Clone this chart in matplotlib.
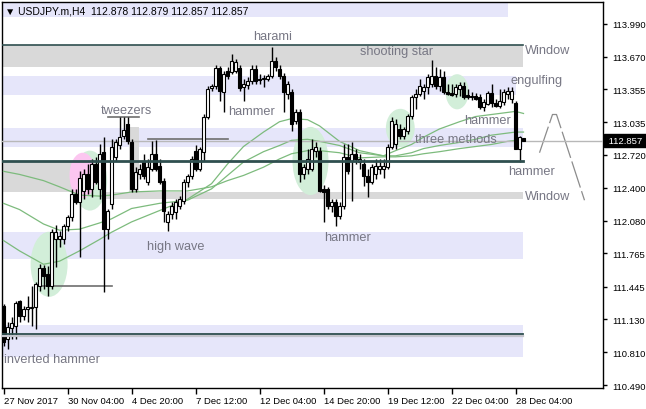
import matplotlib
matplotlib.use("Agg")
import matplotlib.pyplot as plt
from matplotlib.patches import Rectangle, Ellipse
import matplotlib.transforms as mtransforms

plt.rcParams['font.family'] = ['Liberation Sans', 'DejaVu Sans']

# ---------------- data (USDJPY.m, H4) ----------------
opens = [111.26, 110.94, 111.04, 111.06, 111.30, 111.16, 111.23, 111.24, 111.25, 111.45,
         111.62, 111.57, 111.45, 111.90, 111.90, 111.90, 112.03, 112.12, 112.34, 112.26,
         112.37, 112.53, 112.39, 112.63, 112.39, 112.75, 112.00, 112.24, 112.70, 112.81,
         112.90, 113.02, 112.84, 112.39, 112.53, 112.65, 112.46, 112.58, 112.73, 112.61,
         112.47, 112.07, 112.15, 112.17, 112.22, 112.27, 112.46, 112.51, 112.76, 112.58,
         112.75, 113.09, 113.37, 113.39, 113.56, 113.33, 113.53, 113.52, 113.53, 113.56,
         113.38, 113.40, 113.43, 113.55, 113.45, 113.45, 113.45, 113.48, 113.63, 113.55,
         113.48, 113.31, 113.33, 113.05, 113.13, 112.53, 112.58, 112.58, 112.76, 112.76,
         112.39, 112.39, 112.22, 112.26, 112.13, 112.22, 112.70, 112.66, 112.73, 112.65,
         112.63, 112.51, 112.46, 112.53, 112.58, 112.58, 112.60, 112.80, 112.82, 112.97,
         112.90, 112.95, 113.10, 113.28, 113.31, 113.34, 113.38, 113.41, 113.48, 113.39,
         113.47, 113.33, 113.32, 113.31, 113.36, 113.39, 113.30, 113.29, 113.29, 113.28,
         113.18, 113.21, 113.32, 113.22, 113.19, 113.23, 113.31, 113.26, 113.22, 112.78,
         112.878]
highs = [111.28, 111.10, 111.15, 111.30, 111.31, 111.26, 111.35, 111.45, 111.49, 111.66,
         111.65, 111.64, 112.00, 112.04, 111.98, 112.05, 112.14, 112.39, 112.39, 112.56,
         112.58, 112.63, 112.68, 112.70, 112.82, 112.89, 112.20, 112.87, 112.87, 113.09,
         113.09, 113.09, 112.87, 112.60, 112.63, 112.73, 112.68, 112.85, 112.86, 112.68,
         112.50, 112.18, 112.26, 112.29, 112.32, 112.49, 112.53, 112.71, 112.81, 112.80,
         113.11, 113.39, 113.41, 113.59, 113.58, 113.53, 113.57, 113.70, 113.65, 113.59,
         113.45, 113.47, 113.59, 113.59, 113.50, 113.49, 113.50, 113.76, 113.67, 113.59,
         113.51, 113.43, 113.36, 113.16, 113.16, 112.63, 112.78, 112.87, 112.84, 112.80,
         112.43, 112.41, 112.29, 112.29, 112.26, 112.82, 112.82, 112.84, 112.78, 112.73,
         112.68, 112.58, 112.63, 112.68, 112.68, 112.68, 112.82, 113.09, 113.07, 113.02,
         112.99, 113.11, 113.30, 113.36, 113.45, 113.41, 113.50, 113.64, 113.57, 113.55,
         113.53, 113.41, 113.41, 113.41, 113.42, 113.42, 113.36, 113.33, 113.32, 113.31,
         113.26, 113.34, 113.41, 113.26, 113.36, 113.36, 113.38, 113.38, 113.24, 112.90,
         112.879]
lows = [110.87, 110.84, 110.94, 110.94, 111.10, 111.12, 111.10, 111.06, 111.03, 111.40,
        111.42, 111.35, 111.42, 111.63, 111.83, 111.86, 111.98, 112.08, 112.24, 111.73,
        112.29, 112.34, 112.31, 112.44, 112.29, 111.39, 111.90, 112.20, 112.66, 112.78,
        112.87, 112.82, 112.36, 112.36, 112.49, 112.49, 112.43, 112.56, 112.56, 112.44,
        112.07, 111.98, 112.10, 112.10, 112.20, 112.24, 112.41, 112.49, 112.56, 112.56,
        112.66, 113.07, 113.34, 113.36, 113.24, 113.13, 113.45, 113.50, 113.51, 113.34,
        113.24, 113.36, 113.41, 113.41, 113.41, 113.38, 113.43, 113.46, 113.53, 113.45,
        113.13, 113.26, 112.95, 113.02, 112.46, 112.49, 112.53, 112.56, 112.70, 112.36,
        112.07, 112.20, 112.17, 112.03, 112.10, 112.20, 112.53, 112.27, 112.63, 112.58,
        112.42, 112.31, 112.44, 112.49, 112.53, 112.50, 112.58, 112.78, 112.78, 112.87,
        112.87, 112.92, 113.07, 113.16, 113.29, 113.26, 113.31, 113.38, 113.36, 113.34,
        113.31, 113.30, 113.29, 113.28, 113.29, 113.26, 113.26, 113.25, 113.25, 113.16,
        113.14, 113.20, 113.18, 113.18, 113.17, 113.20, 113.26, 113.22, 112.78, 112.65,
        112.857]
closes = [110.91, 111.05, 111.09, 111.29, 111.16, 111.23, 111.25, 111.25, 111.47, 111.62,
          111.55, 111.45, 111.97, 111.97, 111.93, 112.03, 112.12, 112.34, 112.26, 112.50,
          112.53, 112.39, 112.63, 112.46, 112.73, 112.00, 112.18, 112.80, 112.84, 112.89,
          112.96, 112.85, 112.39, 112.55, 112.58, 112.51, 112.60, 112.73, 112.58, 112.46,
          112.18, 112.15, 112.22, 112.26, 112.29, 112.46, 112.51, 112.68, 112.58, 112.78,
          113.09, 113.36, 113.39, 113.56, 113.34, 113.50, 113.48, 113.63, 113.62, 113.37,
          113.41, 113.43, 113.55, 113.43, 113.44, 113.46, 113.48, 113.63, 113.57, 113.48,
          113.33, 113.41, 113.02, 113.13, 112.53, 112.60, 112.68, 112.78, 112.80, 112.37,
          112.36, 112.22, 112.26, 112.13, 112.22, 112.70, 112.56, 112.73, 112.68, 112.68,
          112.51, 112.46, 112.60, 112.61, 112.61, 112.61, 112.80, 113.05, 113.02, 112.90,
          112.97, 113.10, 113.28, 113.31, 113.39, 113.38, 113.47, 113.48, 113.39, 113.47,
          113.33, 113.31, 113.30, 113.38, 113.40, 113.28, 113.28, 113.28, 113.26, 113.18,
          113.23, 113.32, 113.22, 113.19, 113.24, 113.33, 113.34, 113.34, 112.78, 112.89,
          112.857]

ma_idx = [0, 4, 10, 14, 19, 24, 27, 32, 39, 46, 52, 56, 60, 65, 69, 72, 76, 79, 84, 89,
          95, 98, 102, 105, 109, 114, 118, 122, 126, 128, 130]
ma_fast = [111.89, 111.79, 111.66, 111.69, 111.79, 111.90, 111.97, 112.07, 112.18, 112.29,
           112.44, 112.63, 112.80, 112.94, 113.04, 113.07, 113.06, 113.00, 112.85, 112.76,
           112.71, 112.76, 112.82, 112.89, 112.97, 113.04, 113.09, 113.11, 113.13, 113.14, 113.12]
ma_mid = [112.25, 112.19, 112.05, 111.99, 112.00, 112.06, 112.10, 112.20, 112.25, 112.28,
          112.39, 112.52, 112.65, 112.75, 112.81, 112.86, 112.87, 112.85, 112.81, 112.74,
          112.71, 112.71, 112.74, 112.78, 112.81, 112.84, 112.87, 112.91, 112.93, 112.94, 112.94]
ma_slow = [112.56, 112.53, 112.47, 112.41, 112.33, 112.32, 112.33, 112.36, 112.37, 112.37,
           112.41, 112.47, 112.52, 112.60, 112.68, 112.73, 112.76, 112.76, 112.74, 112.69,
           112.70, 112.70, 112.71, 112.73, 112.75, 112.78, 112.80, 112.82, 112.85, 112.86, 112.87]

x_tick_idx = [0, 16, 32, 48, 64, 80, 96, 112, 128]
x_tick_labels = ['27 Nov 2017', '30 Nov 04:00', '4 Dec 20:00', '7 Dec 12:00',
                 '12 Dec 04:00', '14 Dec 20:00', '19 Dec 12:00', '22 Dec 04:00', '28 Dec 04:00']
y_ticks = [113.990, 113.670, 113.355, 113.035, 112.720, 112.400,
           112.080, 111.765, 111.445, 111.130, 110.810, 110.490]
last_price = 112.857
header = '\u25BC USDJPY.m,H4  112.878 112.879 112.857 112.857'

# forecast zig-zag (index, price)
zig_idx = [134, 137.25, 138.25, 145.25]
zig_price = [112.74, 113.11, 113.11, 112.28]

# ---------------- figure ----------------
W, H = 646, 410
fig = plt.figure(figsize=(W / 100, H / 100), dpi=100)
ax = fig.add_axes([2 / W, 21 / H, 601 / W, 386 / H])
ax.set_xlim(-0.375, 149.875)
ax.set_ylim(110.4625, 114.199)

LAV = '#e6e6fa'
GRAY = '#d9d9d9'
DARK = '#2f4f4f'
TXT = '#777784'
GREEN_E = '#d2eed9'

def band(x0, x1, lo, hi, color, z=0):
    ax.add_patch(Rectangle((x0, lo), x1 - x0, hi - lo, facecolor=color,
                           edgecolor='none', zorder=z))

R = 129.75
band(-1, 126.0, 114.05, 114.30, LAV)
band(-1, R, 113.57, 113.78, GRAY)
band(-1, 128.0, 113.30, 113.48, LAV)
band(-1, R, 112.80, 112.98, LAV)
band(-1, 25.5, 112.36, 112.65, GRAY)
band(31.25, 33.75, 112.36, 112.99, GRAY)
band(25.5, R, 112.29, 112.36, GRAY)
band(-1, R, 111.71, 111.97, LAV)
band(-1, R, 110.76, 111.07, LAV)

# ellipses
ax.add_patch(Ellipse((11.4, 111.66), 9.25, 0.63, facecolor=GREEN_E, edgecolor='none', zorder=1))
ax.add_patch(Ellipse((21.6, 112.47), 8.6, 0.58, facecolor=GREEN_E, edgecolor='none', zorder=1))
ax.add_patch(Ellipse((19.8, 112.52), 6.6, 0.44, facecolor='#fcc6f0', edgecolor='none', zorder=1.1))
ax.add_patch(Ellipse((76.75, 112.66), 9.0, 0.66, facecolor=GREEN_E, edgecolor='none', zorder=1))
ax.add_patch(Ellipse((99.2, 112.98), 7.2, 0.37, facecolor=GREEN_E, edgecolor='none', zorder=1))
ax.add_patch(Ellipse((113.4, 113.33), 5.8, 0.34, facecolor=GREEN_E, edgecolor='none', zorder=1))

# horizontal lines
ax.plot([-1, R], [113.78, 113.78], color=DARK, lw=1.2, zorder=6)
ax.plot([-1, R], [112.66, 112.66], color=DARK, lw=2.0, zorder=6)
ax.plot([-1, R], [110.985, 110.985], color=DARK, lw=1.3, zorder=6)
ax.plot([-1, R], [110.962, 110.962], color='#c4c4cc', lw=1.6, zorder=5.9)
ax.plot([-1, 151], [last_price, last_price], color='#b8b8b8', lw=1.0, zorder=4)
ax.plot([26.0, 33.75], [113.09, 113.09], color='#6e6e6e', lw=1.2, zorder=4)
ax.plot([36.0, 56.0], [112.87, 112.87], color='#6e6e6e', lw=1.2, zorder=4)
ax.plot([8.5, 27.0], [111.45, 111.45], color='#6e6e6e', lw=1.2, zorder=4)

# moving averages
for ma in (ma_fast, ma_mid, ma_slow):
    ax.plot(ma_idx, ma, color='#7dbb7d', lw=0.9, zorder=3)

# forecast zig-zag
ax.plot(zig_idx, zig_price, color='#8c8c8c', lw=0.9, ls=(0, (22, 3)), zorder=3, clip_on=False)

# candles
for i, (o, h, l, c) in enumerate(zip(opens, highs, lows, closes)):
    ax.plot([i, i], [l, h], color='black', lw=1.0, zorder=5, solid_capstyle='butt')
    bot = min(o, c)
    hgt = max(abs(c - o), 0.003)
    fc = 'white' if c >= o else 'black'
    ax.add_patch(Rectangle((i - 0.33, bot), 0.66, hgt, facecolor=fc,
                           edgecolor='black', lw=0.8, zorder=5.5))

# labels
fs = 9.2
def lab(x, y, s, ha='center'):
    ax.text(x, y, s, color=TXT, fontsize=fs, ha=ha, va='center', zorder=7, clip_on=False)

lab(67.25, 113.87, 'harami')
lab(98.25, 113.72, 'shooting star')
lab(130.3, 113.73, 'Window', ha='left')
lab(126.8, 113.44, 'engulfing', ha='left')
lab(30.75, 113.15, 'tweezers')
lab(62.0, 113.14, 'hammer')
lab(121.0, 113.06, 'hammer')
lab(113.0, 112.87, 'three methods')
lab(131.9, 112.56, 'hammer')
lab(130.3, 112.32, 'Window', ha='left')
lab(43.0, 111.84, 'high wave')
lab(86.0, 111.92, 'hammer')
lab(0.0, 110.74, 'inverted hammer', ha='left')

# axes styling
for sp in ax.spines.values():
    sp.set_color('black')
    sp.set_linewidth(1.0)
ax.yaxis.tick_right()
ax.set_yticks(y_ticks)
ax.set_yticklabels(['%.3f' % v for v in y_ticks])
ax.tick_params(axis='y', direction='out', length=3, width=1, pad=4, labelsize=6.8, colors='black')
ax.set_xticks(x_tick_idx)
ax.set_xticklabels(x_tick_labels)
ax.tick_params(axis='x', direction='out', length=4, width=1, pad=2, labelsize=6.8, colors='black')
for t in ax.get_xticklabels():
    t.set_ha('left')

# current price tag
trans = mtransforms.blended_transform_factory(ax.transAxes, ax.transData)
ax.text(1.0045, last_price, ' %.3f ' % last_price, transform=trans, color='white', fontsize=6.8,
        ha='left', va='center', zorder=10, clip_on=False,
        bbox=dict(boxstyle='square,pad=0.2', facecolor='black', edgecolor='black'))

fig.text(5 / W, 1 - 12 / H, header, fontsize=7.5, color='black', va='center', ha='left')

fig.savefig('out.png', dpi=100, facecolor='white')
